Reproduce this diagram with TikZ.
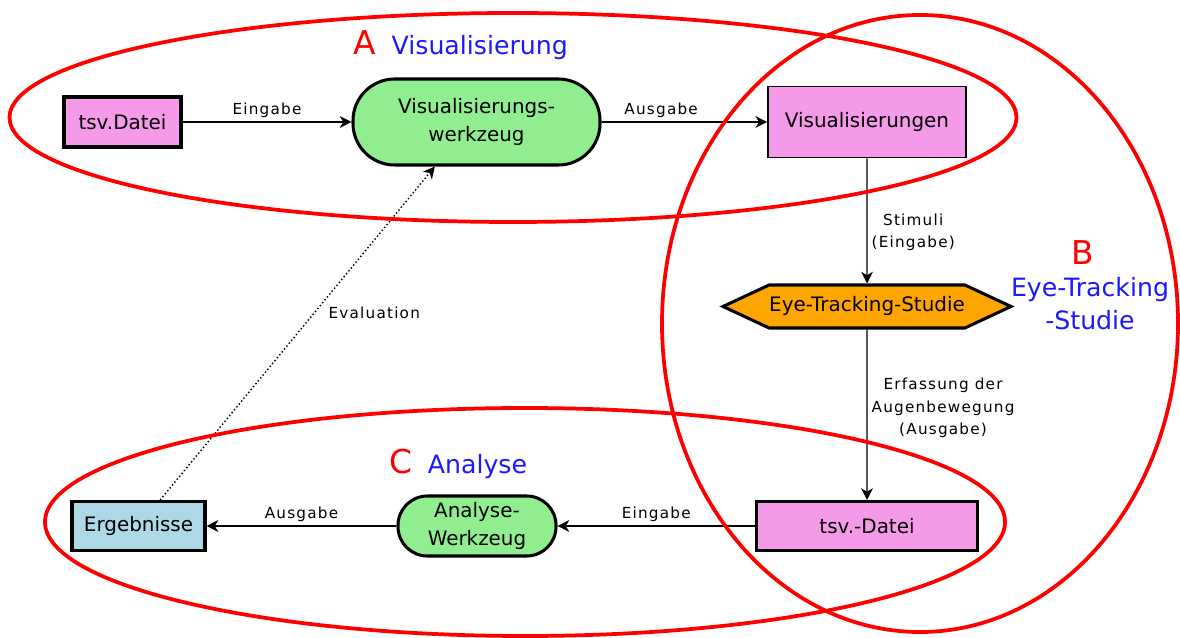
\documentclass[tikz,border=0pt]{standalone}
\usepackage{fontspec}
\setmainfont{DejaVu Sans}
\newfontfamily\spacedfont[LetterSpace=8]{DejaVu Sans}
\usepackage{tikz}
\usetikzlibrary{arrows.meta,positioning,shapes.symbols}
\definecolor{filepink}{RGB}{244,154,232}
\definecolor{toolgreen}{RGB}{144,238,144}
\definecolor{studyorange}{RGB}{255,165,0}
\definecolor{resultblue}{RGB}{173,216,230}
\definecolor{areablue}{RGB}{25,25,255}

\begin{document}
\begin{tikzpicture}[
    file/.style={draw, line width=2.6pt, fill=filepink, inner sep=0pt,
                 font=\fontsize{17}{23}\selectfont},
    tool/.style={draw, line width=2.6pt, fill=toolgreen, inner sep=0pt, align=center,
                 font=\fontsize{17}{24}\selectfont},
    flowlabel/.style={font=\spacedfont\fontsize{13}{19}\selectfont, align=center},
    flow/.style={->, line width=1.2pt},
    region/.style={draw=red, line width=3.2pt},
    letter/.style={text=red, font=\fontsize{28}{30}\selectfont, inner sep=0pt},
    areaname/.style={text=areablue, font=\fontsize{21.5}{28}\selectfont, align=center, inner sep=0pt},
    >={Stealth[length=10pt, width=10pt, inset=3pt]}
]
\useasboundingbox (0,0) rectangle (35.4,19.11);

% Visualisierung
\node[file, minimum width=3.51cm, minimum height=1.5cm] (tsvin) at (3.675,15.45) {tsv.Datei};
\node[tool, minimum width=7.41cm, minimum height=2.58cm, rounded corners=1.25cm] (vistool) at (14.295,15.45) {Visualisierungs-\\werkzeug};
\node[file, line width=1.4pt, minimum width=5.94cm, minimum height=2.13cm] (visout) at (26.01,15.45) {Visualisierungen};

% Eye-Tracking-Studie
\node[draw, line width=2.6pt, fill=studyorange, signal, signal to=west and east, signal pointer angle=50,
      minimum width=8.64cm, minimum height=1.29cm, inner sep=0pt, font=\fontsize{17}{23}\selectfont] (study) at (26.01,9.915) {Eye-Tracking-Studie};

% Analyse
\node[file, minimum width=6.63cm, minimum height=1.47cm] (tsvres) at (26.01,3.33) {tsv.-Datei};
\node[tool, minimum width=4.74cm, minimum height=1.8cm, rounded corners=0.88cm] (antool) at (14.31,3.33) {Analyse-\\Werkzeug};
\node[file, fill=resultblue, minimum width=3.99cm, minimum height=1.47cm] (result) at (4.155,3.33) {Ergebnisse};

\draw[flow] (tsvin) -- node[flowlabel, above] {Eingabe} (vistool);
\draw[flow] (vistool) -- node[flowlabel, above, pos=0.36] {Ausgabe} (visout);
\draw[flow] (visout) -- node[flowlabel, right, pos=0.59] {Stimuli\\(Eingabe)} (study);
\draw[flow] (study) -- node[flowlabel, right, pos=0.46] {Erfassung der\\Augenbewegung\\(Ausgabe)} (tsvres);
\draw[flow] (tsvres) -- node[flowlabel, above] {Eingabe} (antool);
\draw[flow] (antool) -- node[flowlabel, above] {Ausgabe} (result);
\draw[flow, dotted] ([xshift=0.65cm]result.north) -- node[flowlabel, pos=0.56, anchor=west, xshift=0.3cm] {Evaluation} ([xshift=-1.25cm]vistool.south);

% Bereiche
\draw[region] (15.39,15.585) ellipse [x radius=15.105, y radius=3.135];
\draw[region] (27.6,9.405) ellipse [x radius=7.74, y radius=9.255];
\draw[region] (15.75,3.45) ellipse [x radius=14.4, y radius=3.42];

\node[letter] (labA) at (10.95,17.82) {A};
\node[areaname, anchor=base west] (nameA) at ([xshift=0.45cm]labA.base east) {Visualisierung};
\node[letter] (labB) at (32.49,11.52) {B};
\node[areaname] (nameB) at (32.7,10.005) {Eye-Tracking\\-Studie};
\node[letter] (labC) at (12.03,5.25) {C};
\node[areaname, anchor=base west] (nameC) at ([xshift=0.45cm]labC.base east) {Analyse};
\end{tikzpicture}
\end{document}
